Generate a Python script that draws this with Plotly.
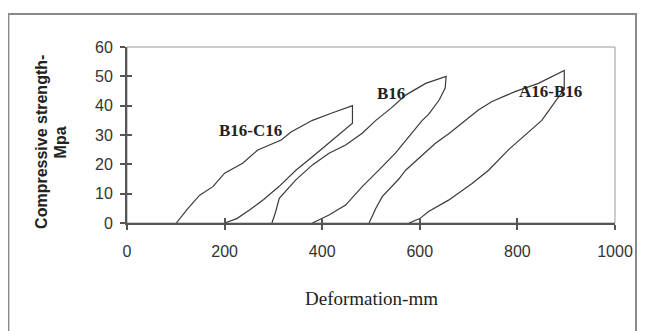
import plotly.graph_objects as go

# ---- data ----
b16c16_x = [101, 125, 149, 176, 200, 237, 268, 316, 336, 380, 420, 462,
            462, 414, 380, 346, 312, 280, 251, 225, 200]
b16c16_y = [0, 5, 9.5, 12.4, 17, 20.4, 24.9, 28.3, 31, 35, 37.5, 40,
            34, 27.2, 22.6, 18, 12.5, 8, 4.4, 1.5, 0]

b16_x = [297, 305, 312, 346, 380, 414, 448, 482, 510, 540, 571, 612, 654,
         652, 640, 618, 605, 584, 550, 516, 482, 448, 414, 380]
b16_y = [0, 4, 8.4, 14.7, 19.8, 23.8, 26.6, 30.6, 35, 39, 43.6, 47.6, 50,
         46, 42, 37, 35, 30.6, 23.8, 18, 12.4, 6.1, 2.7, 0]

a16b16_x = [496, 510, 523, 557, 571, 600, 632, 660, 693, 720, 748, 795, 843, 896,
            896, 880, 850, 816, 782, 741, 707, 659, 618, 600, 578]
a16b16_y = [0, 5, 9, 15, 18, 22.5, 27.2, 30.5, 35, 38.5, 41.4, 44.8, 47.6, 52,
            45.5, 42, 35, 30, 25, 18, 13.5, 7.8, 3.9, 1.5, 0]

labels = ["B16-C16", "B16", "A16-B16"]
label_x = [254, 540, 867]
label_y = [31.7, 44.2, 44.8]

x_ticks = [0, 200, 400, 600, 800, 1000]
y_ticks = [0, 10, 20, 30, 40, 50, 60]

line_style = dict(color="#3a3a3a", width=1.2)

fig = go.Figure()
for xs, ys, nm in [(b16c16_x, b16c16_y, "B16-C16"),
                   (b16_x, b16_y, "B16"),
                   (a16b16_x, a16b16_y, "A16-B16")]:
    fig.add_trace(go.Scatter(x=xs, y=ys, mode="lines", name=nm,
                             line=line_style, showlegend=False))

# dummy trace for inner tick overlay
fig.add_trace(go.Scatter(x=[], y=[], xaxis="x2", yaxis="y2", showlegend=False))

for t, lx, ly in zip(labels, label_x, label_y):
    fig.add_annotation(x=lx, y=ly, text="<b>" + t + "</b>", showarrow=False,
                       font=dict(family="Liberation Serif", size=17, color="#222"))

axis_font = dict(family="Liberation Sans", size=16, color="#333")
fig.update_layout(
    width=637, height=323,
    margin=dict(l=119, r=28, t=39, b=108),
    paper_bgcolor="white", plot_bgcolor="white",
    xaxis=dict(range=[0, 1000], tickvals=x_ticks, showgrid=False, zeroline=False,
               showline=True, linecolor="#555", linewidth=2,
               ticks="outside", ticklen=5, tickwidth=1.5, tickcolor="#555",
               tickfont=axis_font, ticklabelstandoff=8),
    yaxis=dict(range=[0, 60], tickvals=y_ticks, showgrid=False, zeroline=False,
               showline=True, linecolor="#555", linewidth=2,
               ticks="outside", ticklen=5, tickwidth=1.5, tickcolor="#555",
               tickfont=axis_font, ticklabelstandoff=4),
    xaxis2=dict(overlaying="x", matches="x", range=[0, 1000], tickvals=x_ticks,
                ticks="inside", ticklen=5, tickwidth=1.5, tickcolor="#555",
                showticklabels=False, showgrid=False, zeroline=False,
                showline=False, anchor="y2", side="bottom"),
    yaxis2=dict(overlaying="y", matches="y", range=[0, 60], tickvals=y_ticks,
                ticks="inside", ticklen=5, tickwidth=1.5, tickcolor="#555",
                showticklabels=False, showgrid=False, zeroline=False,
                showline=False, anchor="x2", side="left"),
)

# axis titles as annotations
fig.add_annotation(xref="paper", yref="paper", x=0.5, y=-0.43, yanchor="middle",
                   text="Deformation-mm", showarrow=False,
                   font=dict(family="Liberation Serif", size=19, color="#222"))
fig.add_annotation(xref="paper", yref="paper", x=-0.198, y=0.46, textangle=-90,
                   text="<b>Compressive strength-</b>", showarrow=False,
                   font=dict(family="Liberation Sans", size=16, color="#222"))
fig.add_annotation(xref="paper", yref="paper", x=-0.158, y=0.46, textangle=-90,
                   text="<b>Mpa</b>", showarrow=False,
                   font=dict(family="Liberation Sans", size=16, color="#222"))

# plot-area top/right border and outer frame
fig.add_shape(type="rect", xref="paper", yref="paper", x0=0, y0=0, x1=1, y1=1,
              line=dict(color="#999", width=1), layer="below")
fig.add_shape(type="rect", xref="paper", yref="paper", x0=-0.243, y0=-0.7,
              x1=1.043, y1=1.1875, line=dict(color="#8a8a8a", width=2), layer="below")

fig.write_html("out.html")
